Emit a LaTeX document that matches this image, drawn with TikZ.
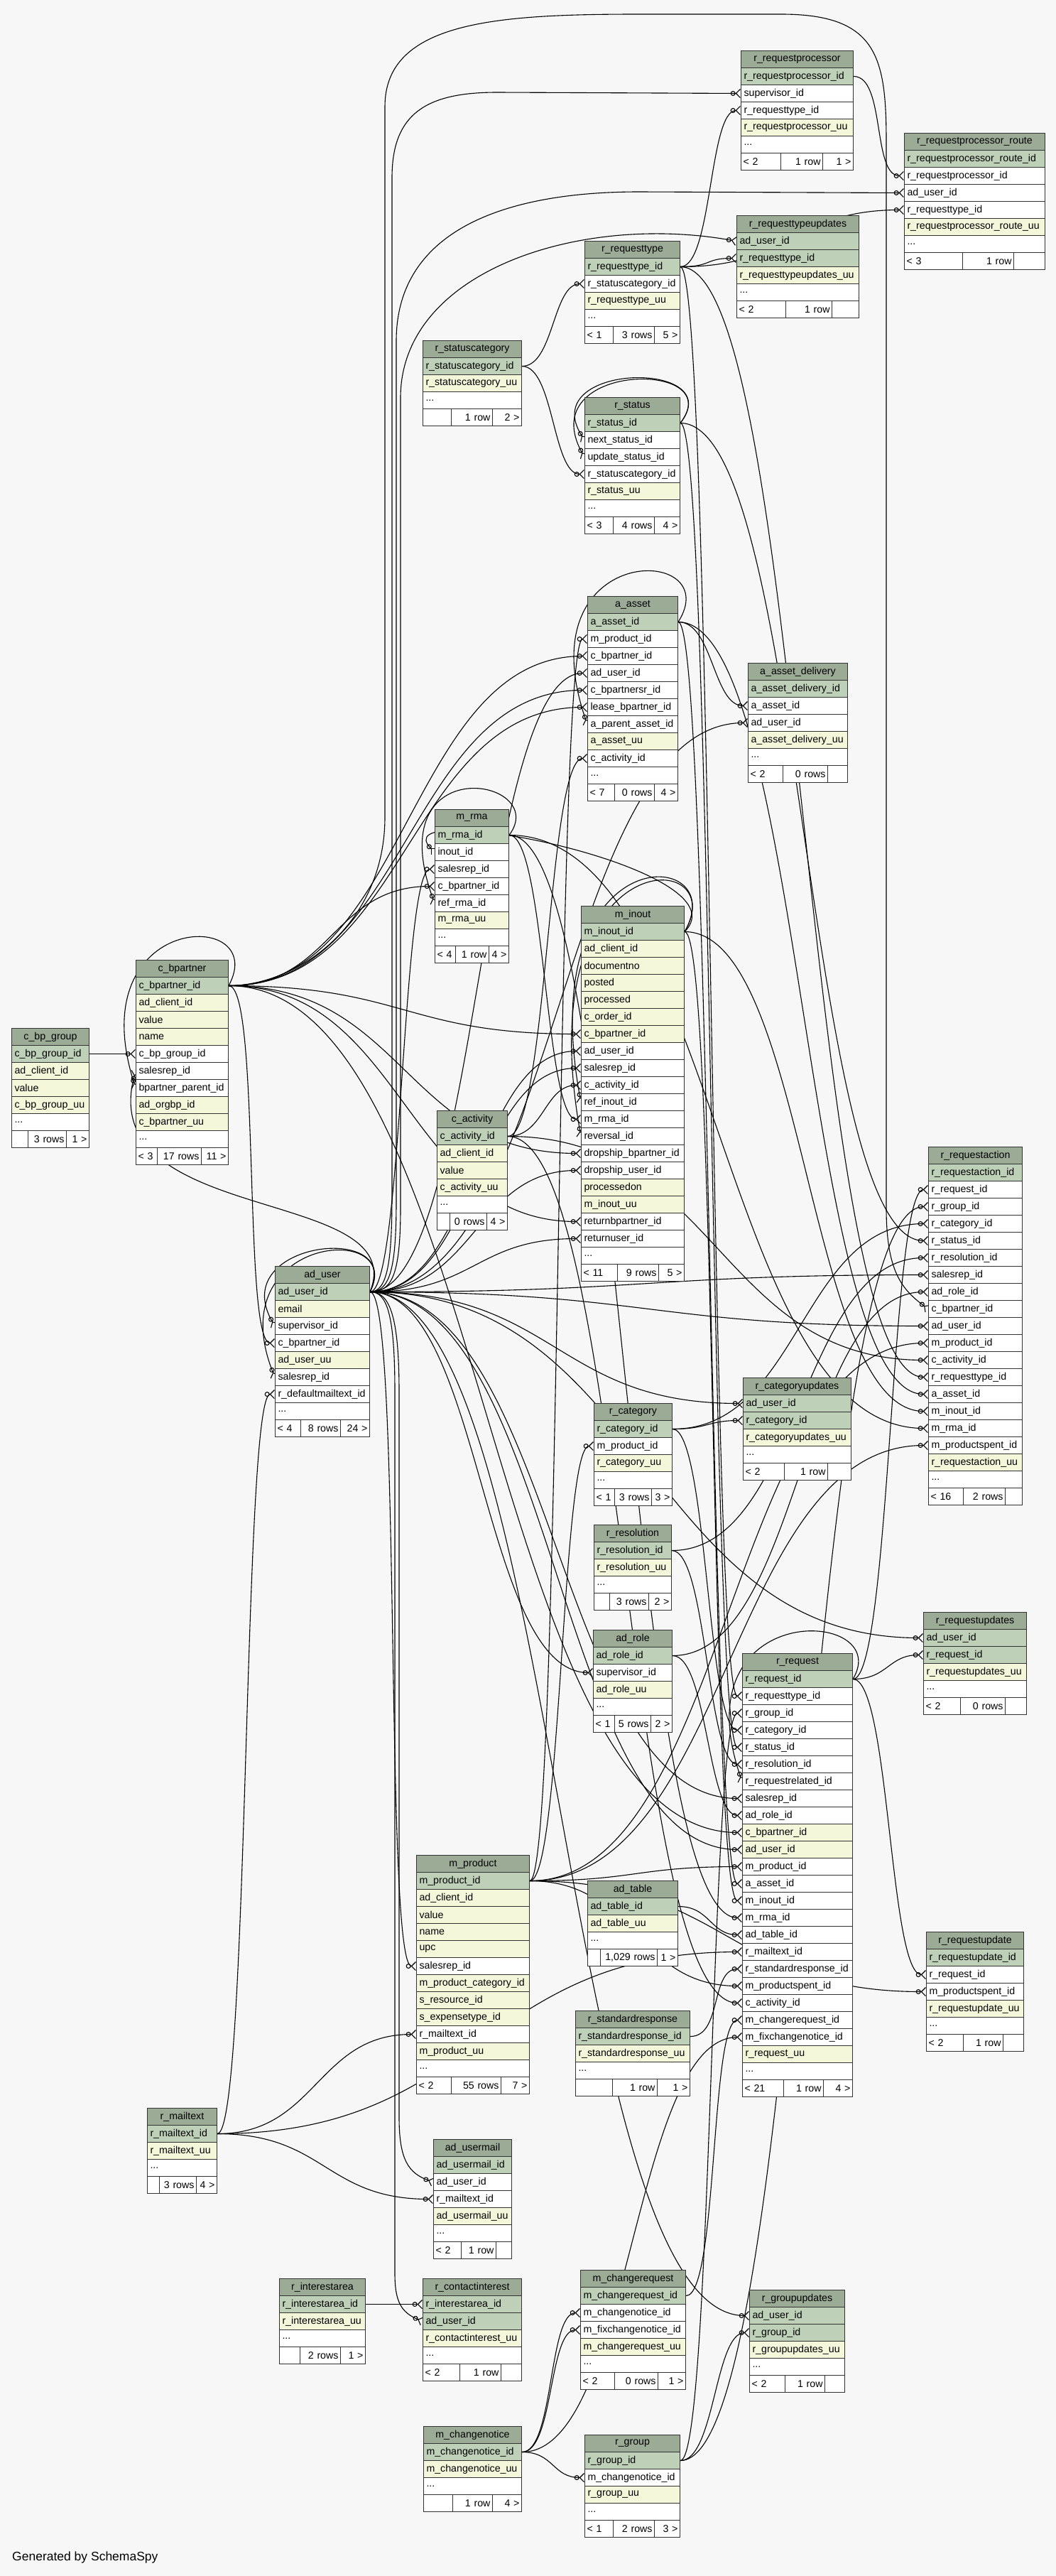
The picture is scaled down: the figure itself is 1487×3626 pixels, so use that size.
\documentclass[tikz,border=0pt]{standalone}
\usepackage{fontspec}
\setmainfont{Liberation Sans}
\usetikzlibrary{arrows.meta}

\definecolor{bgc}{HTML}{F7F7F7}
\definecolor{hdrc}{HTML}{9BAB96}
\definecolor{pkc}{HTML}{BED1B8}
\definecolor{ixc}{HTML}{F4F7DA}

\pgfdeclarelayer{bg}
\pgfdeclarelayer{links}
\pgfsetlayers{bg,links,main}

\newcommand\dbfont{\fontsize{14.2}{17}\selectfont}
\newdimen\fkdx

\tikzset{
  cell/.style={draw=black!80, line width=1pt, anchor=north west, minimum height=24pt,
    inner xsep=4pt, inner ysep=0pt, font=\dbfont},
  hdrow/.style={cell, fill=hdrc, align=center},
  keyrow/.style={cell, fill=pkc, align=left},
  plainrow/.style={cell, fill=ixc, align=left},
  fkrow/.style={cell, fill=white, align=left},
  footcell/.style={cell, fill=white, inner xsep=3pt},
  rowkind/.style={#1},
  fk/.style={line width=1.1pt,
    -{Circle[open,length=7pt,width=7pt] Straight Barb[reversed,length=6pt,width=12pt]}},
}

% table: name, x, y, width, columns (kind/column)
\newcommand\dbtable[5]{%
  \pgfmathsetmacro\tbtw{#4-8}%
  \node[hdrow, minimum width=#4pt, text width=\tbtw pt] (#1) at (#2,#3) {\detokenize{#1}};
  \foreach \st/\cn [count=\rw] in {#5} {
    \node[rowkind/.expand once=\st, minimum width=#4pt, text width=\tbtw pt] (#1-\cn)
      at (#2,#3+\rw*24) {\expandafter\detokenize\expandafter{\cn}};
    \global\let\tbn\rw
  }
  \node[fkrow, minimum width=#4pt, text width=\tbtw pt] (#1-more) at (#2,#3+\tbn*24+24) {...};
  \xdef\tbname{#1}\xdef\tbx{#2}\xdef\tbw{#4}%
  \pgfmathsetmacro\tbyf{#3+\tbn*24+48}%
}

% footer of the last table: divider x, divider x, left, middle, right
\newcommand\dbfoot[5]{%
  \pgfmathsetmacro\fwa{#1-\tbx}\pgfmathsetmacro\fwb{#2-#1}\pgfmathsetmacro\fwc{\tbx+\tbw-#2}%
  \pgfmathsetmacro\fta{\fwa-6}\pgfmathsetmacro\ftb{\fwb-6}\pgfmathsetmacro\ftc{\fwc-6}%
  \node[footcell, align=left, minimum width=\fwa pt, text width=\fta pt] (\tbname-fl) at (\tbx,\tbyf) {#3};
  \node[footcell, align=right, minimum width=\fwb pt, text width=\ftb pt] (\tbname-fm) at (#1,\tbyf) {#4};
  \node[footcell, align=right, minimum width=\fwc pt, text width=\ftc pt] (\tbname-fr) at (#2,\tbyf) {#5};
}

% key row east -> foreign key row west
\newcommand\fklink[2]{%
  \pgfextractx{\fkdx}{\pgfpointdiff{\pgfpointanchor{#1}{east}}{\pgfpointanchor{#2}{west}}}%
  \pgfmathsetmacro\fkd{max(45,abs(\fkdx)/2)}%
  \draw[fk] (#1.east) .. controls +(\fkd,0) and +(-\fkd,0) .. (#2.west);
}

\begin{document}
\begin{tikzpicture}[x=1pt,y=-1pt]
  \useasboundingbox (0,0) rectangle (1487,3626);
  \begin{pgfonlayer}{bg}
    \fill[bgc] (0,0) rectangle (1487,3626);
  \end{pgfonlayer}

  % tables
  \dbtable{r_requestprocessor}{1043}{71}{158}{keyrow/r_requestprocessor_id, fkrow/supervisor_id,
    fkrow/r_requesttype_id, plainrow/r_requestprocessor_uu}
  \dbfoot{1099}{1158}{< 2}{1 row}{1 >}
  \dbtable{r_requestprocessor_route}{1273}{187}{198}{keyrow/r_requestprocessor_route_id,
    fkrow/r_requestprocessor_id, fkrow/ad_user_id, fkrow/r_requesttype_id, plainrow/r_requestprocessor_route_uu}
  \dbfoot{1355}{1427}{< 3}{1 row}{}
  \dbtable{r_requesttypeupdates}{1037}{303}{172}{keyrow/ad_user_id, keyrow/r_requesttype_id,
    plainrow/r_requesttypeupdates_uu}
  \dbfoot{1106}{1171}{< 2}{1 row}{}
  \dbtable{r_requesttype}{823}{339}{134}{keyrow/r_requesttype_id, fkrow/r_statuscategory_id,
    plainrow/r_requesttype_uu}
  \dbfoot{863}{921}{< 1}{3 rows}{5 >}
  \dbtable{r_statuscategory}{595}{479}{139}{keyrow/r_statuscategory_id, plainrow/r_statuscategory_uu}
  \dbfoot{635}{693}{}{1 row}{2 >}
  \dbtable{r_status}{823}{559}{134}{keyrow/r_status_id, fkrow/next_status_id, fkrow/update_status_id,
    fkrow/r_statuscategory_id, plainrow/r_status_uu}
  \dbfoot{863}{921}{< 3}{4 rows}{4 >}
  \dbtable{a_asset}{827}{839}{127}{keyrow/a_asset_id, fkrow/m_product_id, fkrow/c_bpartner_id,
    fkrow/ad_user_id, fkrow/c_bpartnersr_id, fkrow/lease_bpartner_id, fkrow/a_parent_asset_id,
    plainrow/a_asset_uu, fkrow/c_activity_id}
  \dbfoot{865}{921}{< 7}{0 rows}{4 >}
  \dbtable{a_asset_delivery}{1053}{933}{140}{keyrow/a_asset_delivery_id, fkrow/a_asset_id,
    fkrow/ad_user_id, plainrow/a_asset_delivery_uu}
  \dbfoot{1102}{1165}{< 2}{0 rows}{}
  \dbtable{m_rma}{612}{1139}{104}{keyrow/m_rma_id, fkrow/inout_id, fkrow/salesrep_id,
    fkrow/c_bpartner_id, fkrow/ref_rma_id, plainrow/m_rma_uu}
  \dbfoot{641}{688}{< 4}{1 row}{4 >}
  \dbtable{m_inout}{818}{1275}{145}{keyrow/m_inout_id, plainrow/ad_client_id, plainrow/documentno,
    plainrow/posted, plainrow/processed, plainrow/c_order_id, plainrow/c_bpartner_id, fkrow/ad_user_id,
    fkrow/salesrep_id, fkrow/c_activity_id, fkrow/ref_inout_id, fkrow/m_rma_id, fkrow/reversal_id,
    fkrow/dropship_bpartner_id, fkrow/dropship_user_id, plainrow/processedon, plainrow/m_inout_uu,
    fkrow/returnbpartner_id, fkrow/returnuser_id}
  \dbfoot{869}{927}{< 11}{9 rows}{5 >}
  \dbtable{c_bp_group}{16}{1447}{109}{keyrow/c_bp_group_id, plainrow/ad_client_id, plainrow/value,
    plainrow/c_bp_group_uu}
  \dbfoot{39}{93}{}{3 rows}{1 >}
  \dbtable{c_bpartner}{191}{1351}{130}{keyrow/c_bpartner_id, plainrow/ad_client_id, plainrow/value,
    plainrow/name, fkrow/c_bp_group_id, fkrow/salesrep_id, fkrow/bpartner_parent_id,
    plainrow/ad_orgbp_id, plainrow/c_bpartner_uu}
  \dbfoot{221}{283}{< 3}{17 rows}{11 >}
  \dbtable{c_activity}{615}{1563}{99}{keyrow/c_activity_id, plainrow/ad_client_id, plainrow/value,
    plainrow/c_activity_uu}
  \dbfoot{633}{685}{}{0 rows}{4 >}
  \dbtable{r_requestaction}{1307}{1614}{132}{keyrow/r_requestaction_id, fkrow/r_request_id,
    fkrow/r_group_id, fkrow/r_category_id, fkrow/r_status_id, fkrow/r_resolution_id, fkrow/salesrep_id,
    fkrow/ad_role_id, fkrow/c_bpartner_id, fkrow/ad_user_id, fkrow/m_product_id, fkrow/c_activity_id,
    fkrow/r_requesttype_id, fkrow/a_asset_id, fkrow/m_inout_id, fkrow/m_rma_id, fkrow/m_productspent_id,
    plainrow/r_requestaction_uu}
  \dbfoot{1356}{1415}{< 16}{2 rows}{}
  \dbtable{ad_user}{387}{1782}{133}{keyrow/ad_user_id, plainrow/email, fkrow/supervisor_id,
    fkrow/c_bpartner_id, plainrow/ad_user_uu, fkrow/salesrep_id, fkrow/r_defaultmailtext_id}
  \dbfoot{423}{479}{< 4}{8 rows}{24 >}
  \dbtable{r_categoryupdates}{1046}{1939}{152}{keyrow/ad_user_id, keyrow/r_category_id,
    plainrow/r_categoryupdates_uu}
  \dbfoot{1104}{1165}{< 2}{1 row}{}
  \dbtable{r_category}{836}{1975}{110}{keyrow/r_category_id, fkrow/m_product_id, plainrow/r_category_uu}
  \dbfoot{865}{917}{< 1}{3 rows}{3 >}
  \dbtable{r_resolution}{836}{2146}{109}{keyrow/r_resolution_id, plainrow/r_resolution_uu}
  \dbfoot{858}{913}{}{3 rows}{2 >}
  \dbtable{ad_role}{835}{2294}{111}{keyrow/ad_role_id, fkrow/supervisor_id, plainrow/ad_role_uu}
  \dbfoot{865}{916}{< 1}{5 rows}{2 >}
  \dbtable{r_requestupdates}{1300}{2269}{145}{keyrow/ad_user_id, keyrow/r_request_id,
    plainrow/r_requestupdates_uu}
  \dbfoot{1352}{1415}{< 2}{0 rows}{}
  \dbtable{r_request}{1045}{2327}{155}{keyrow/r_request_id, fkrow/r_requesttype_id, fkrow/r_group_id,
    fkrow/r_category_id, fkrow/r_status_id, fkrow/r_resolution_id, fkrow/r_requestrelated_id,
    fkrow/salesrep_id, fkrow/ad_role_id, plainrow/c_bpartner_id, plainrow/ad_user_id, fkrow/m_product_id,
    fkrow/a_asset_id, fkrow/m_inout_id, fkrow/m_rma_id, fkrow/ad_table_id, fkrow/r_mailtext_id,
    fkrow/r_standardresponse_id, fkrow/m_productspent_id, fkrow/c_activity_id, fkrow/m_changerequest_id,
    fkrow/m_fixchangenotice_id, plainrow/r_request_uu}
  \dbfoot{1103}{1159}{< 21}{1 row}{4 >}
  \dbtable{m_product}{586}{2611}{159}{keyrow/m_product_id, plainrow/ad_client_id, plainrow/value,
    plainrow/name, plainrow/upc, fkrow/salesrep_id, plainrow/m_product_category_id,
    plainrow/s_resource_id, plainrow/s_expensetype_id, fkrow/r_mailtext_id, plainrow/m_product_uu}
  \dbfoot{635}{705}{< 2}{55 rows}{7 >}
  \dbtable{ad_table}{827}{2647}{127}{keyrow/ad_table_id, plainrow/ad_table_uu}
  \dbfoot{845}{925}{}{1,029 rows}{1 >}
  \dbtable{r_standardresponse}{810}{2830}{161}{keyrow/r_standardresponse_id, plainrow/r_standardresponse_uu}
  \dbfoot{862}{925}{}{1 row}{1 >}
  \dbtable{r_requestupdate}{1304}{2719}{137}{keyrow/r_requestupdate_id, fkrow/r_request_id,
    fkrow/m_productspent_id, plainrow/r_requestupdate_uu}
  \dbfoot{1356}{1412}{< 2}{1 row}{}
  \dbtable{r_mailtext}{207}{2967}{98}{keyrow/r_mailtext_id, plainrow/r_mailtext_uu}
  \dbfoot{224}{276}{}{3 rows}{4 >}
  \dbtable{ad_usermail}{610}{3011}{110}{keyrow/ad_usermail_id, fkrow/ad_user_id, fkrow/r_mailtext_id,
    plainrow/ad_usermail_uu}
  \dbfoot{649}{698}{< 2}{1 row}{}
  \dbtable{r_interestarea}{393}{3207}{121}{keyrow/r_interestarea_id, plainrow/r_interestarea_uu}
  \dbfoot{422}{479}{}{2 rows}{1 >}
  \dbtable{r_contactinterest}{595}{3207}{139}{keyrow/r_interestarea_id, keyrow/ad_user_id,
    plainrow/r_contactinterest_uu}
  \dbfoot{647}{705}{< 2}{1 row}{}
  \dbtable{m_changerequest}{817}{3195}{148}{keyrow/m_changerequest_id, fkrow/m_changenotice_id,
    fkrow/m_fixchangenotice_id, plainrow/m_changerequest_uu}
  \dbfoot{865}{926}{< 2}{0 rows}{1 >}
  \dbtable{r_groupupdates}{1055}{3223}{134}{keyrow/ad_user_id, keyrow/r_group_id, plainrow/r_groupupdates_uu}
  \dbfoot{1105}{1161}{< 2}{1 row}{}
  \dbtable{m_changenotice}{596}{3415}{138}{keyrow/m_changenotice_id, plainrow/m_changenotice_uu}
  \dbfoot{637}{693}{}{1 row}{4 >}
  \dbtable{r_group}{823}{3427}{134}{keyrow/r_group_id, fkrow/m_changenotice_id, plainrow/r_group_uu}
  \dbfoot{863}{921}{< 1}{2 rows}{3 >}

  \node[font=\fontsize{17.5}{20}\selectfont, anchor=west, inner sep=0pt] (credit) at (17,3600) {Generated by SchemaSpy};

  % relationships
  \begin{pgfonlayer}{links}
    \foreach \p/\q in {
      r_requesttype-r_requesttype_id/r_requestprocessor-r_requesttype_id,
      r_requestprocessor-r_requestprocessor_id/r_requestprocessor_route-r_requestprocessor_id,
      r_requesttype-r_requesttype_id/r_requestprocessor_route-r_requesttype_id,
      r_requesttype-r_requesttype_id/r_requesttypeupdates-r_requesttype_id,
      r_statuscategory-r_statuscategory_id/r_requesttype-r_statuscategory_id,
      r_statuscategory-r_statuscategory_id/r_status-r_statuscategory_id,
      m_product-m_product_id/a_asset-m_product_id,
      c_bpartner-c_bpartner_id/a_asset-c_bpartner_id,
      ad_user-ad_user_id/a_asset-ad_user_id,
      c_bpartner-c_bpartner_id/a_asset-c_bpartnersr_id,
      c_bpartner-c_bpartner_id/a_asset-lease_bpartner_id,
      c_activity-c_activity_id/a_asset-c_activity_id,
      a_asset-a_asset_id/a_asset_delivery-a_asset_id,
      ad_user-ad_user_id/a_asset_delivery-ad_user_id,
      ad_user-ad_user_id/m_rma-salesrep_id,
      c_bpartner-c_bpartner_id/m_rma-c_bpartner_id,
      c_bp_group-c_bp_group_id/c_bpartner-c_bp_group_id,
      c_bpartner-c_bpartner_id/m_inout-c_bpartner_id,
      ad_user-ad_user_id/m_inout-ad_user_id,
      ad_user-ad_user_id/m_inout-salesrep_id,
      c_activity-c_activity_id/m_inout-c_activity_id,
      m_rma-m_rma_id/m_inout-m_rma_id,
      c_bpartner-c_bpartner_id/m_inout-dropship_bpartner_id,
      ad_user-ad_user_id/m_inout-dropship_user_id,
      c_bpartner-c_bpartner_id/m_inout-returnbpartner_id,
      ad_user-ad_user_id/m_inout-returnuser_id,
      r_request-r_request_id/r_requestaction-r_request_id,
      r_group-r_group_id/r_requestaction-r_group_id,
      r_category-r_category_id/r_requestaction-r_category_id,
      r_status-r_status_id/r_requestaction-r_status_id,
      r_resolution-r_resolution_id/r_requestaction-r_resolution_id,
      ad_user-ad_user_id/r_requestaction-salesrep_id,
      ad_role-ad_role_id/r_requestaction-ad_role_id,
      ad_user-ad_user_id/r_requestaction-ad_user_id,
      m_product-m_product_id/r_requestaction-m_product_id,
      c_activity-c_activity_id/r_requestaction-c_activity_id,
      r_requesttype-r_requesttype_id/r_requestaction-r_requesttype_id,
      a_asset-a_asset_id/r_requestaction-a_asset_id,
      m_inout-m_inout_id/r_requestaction-m_inout_id,
      m_rma-m_rma_id/r_requestaction-m_rma_id,
      m_product-m_product_id/r_requestaction-m_productspent_id,
      c_bpartner-c_bpartner_id/ad_user-c_bpartner_id,
      r_mailtext-r_mailtext_id/ad_user-r_defaultmailtext_id,
      ad_user-ad_user_id/r_categoryupdates-ad_user_id,
      r_category-r_category_id/r_categoryupdates-r_category_id,
      m_product-m_product_id/r_category-m_product_id,
      ad_user-ad_user_id/ad_role-supervisor_id,
      ad_user-ad_user_id/r_requestupdates-ad_user_id,
      r_request-r_request_id/r_requestupdates-r_request_id,
      r_requesttype-r_requesttype_id/r_request-r_requesttype_id,
      r_group-r_group_id/r_request-r_group_id,
      r_category-r_category_id/r_request-r_category_id,
      r_status-r_status_id/r_request-r_status_id,
      r_resolution-r_resolution_id/r_request-r_resolution_id,
      ad_user-ad_user_id/r_request-salesrep_id,
      ad_role-ad_role_id/r_request-ad_role_id,
      c_bpartner-c_bpartner_id/r_request-c_bpartner_id,
      ad_user-ad_user_id/r_request-ad_user_id,
      m_product-m_product_id/r_request-m_product_id,
      a_asset-a_asset_id/r_request-a_asset_id,
      m_inout-m_inout_id/r_request-m_inout_id,
      m_rma-m_rma_id/r_request-m_rma_id,
      ad_table-ad_table_id/r_request-ad_table_id,
      r_mailtext-r_mailtext_id/r_request-r_mailtext_id,
      r_standardresponse-r_standardresponse_id/r_request-r_standardresponse_id,
      m_product-m_product_id/r_request-m_productspent_id,
      c_activity-c_activity_id/r_request-c_activity_id,
      m_changerequest-m_changerequest_id/r_request-m_changerequest_id,
      m_changenotice-m_changenotice_id/r_request-m_fixchangenotice_id,
      ad_user-ad_user_id/m_product-salesrep_id,
      r_mailtext-r_mailtext_id/m_product-r_mailtext_id,
      r_request-r_request_id/r_requestupdate-r_request_id,
      m_product-m_product_id/r_requestupdate-m_productspent_id,
      r_mailtext-r_mailtext_id/ad_usermail-r_mailtext_id,
      r_interestarea-r_interestarea_id/r_contactinterest-r_interestarea_id,
      m_changenotice-m_changenotice_id/m_changerequest-m_changenotice_id,
      m_changenotice-m_changenotice_id/m_changerequest-m_fixchangenotice_id,
      ad_user-ad_user_id/r_groupupdates-ad_user_id,
      r_group-r_group_id/r_groupupdates-r_group_id,
      m_changenotice-m_changenotice_id/r_group-m_changenotice_id}
    {\fklink{\p}{\q}}

    % long links up and down the left corridor
    \draw[fk] (ad_user-ad_user_id.east) .. controls (545,1818) and (552,1780) .. (552,1680)
      -- (552,250) .. controls (552,160) and (600,130) .. (700,130) -- (r_requestprocessor-supervisor_id.west);
    \draw[fk] (ad_user-ad_user_id.east) .. controls (548,1818) and (558,1790) .. (558,1690)
      -- (558,480) .. controls (558,330) and (700,270) .. (900,270) -- (r_requestprocessor_route-ad_user_id.west);
    \draw[fk] (ad_user-ad_user_id.east) .. controls (550,1818) and (564,1800) .. (564,1700)
      -- (564,560) .. controls (564,380) and (820,300) .. (r_requesttypeupdates-ad_user_id.west);
    \draw[fk] (ad_user-ad_user_id.east) .. controls (548,1818) and (562,1850) .. (562,1960)
      -- (562,2980) .. controls (562,3040) and (575,3059) .. (ad_usermail-ad_user_id.west);
    \draw[fk] (ad_user-ad_user_id.east) .. controls (545,1818) and (556,1850) .. (556,1960)
      -- (556,3200) .. controls (556,3240) and (565,3255) .. (r_contactinterest-ad_user_id.west);
    \draw[fk] (c_bpartner-c_bpartner_id.east) .. controls (420,1387) and (542,1300) .. (542,1150)
      -- (542,150) .. controls (542,30) and (700,20) .. (900,20) -- (1100,20)
      .. controls (1235,20) and (1248,80) .. (1248,200) -- (1248,1700)
      .. controls (1248,1790) and (1270,1815) .. (r_requestaction-c_bpartner_id.west);

    % loops and back links
    \draw[fk] (r_status-r_status_id.east) .. controls +(70,-90) and +(-70,-110) .. (r_status-next_status_id.west);
    \draw[fk] (r_status-r_status_id.east) .. controls +(70,-90) and +(-75,-135) .. (r_status-update_status_id.west);
    \draw[fk] (a_asset-a_asset_id.east) .. controls +(70,-110) and +(-90,-260) .. (a_asset-a_parent_asset_id.west);
    \draw[fk] (m_rma-m_rma_id.east) .. controls +(60,-80) and +(-80,-220) .. (m_rma-ref_rma_id.west);
    \draw[fk] (m_inout-m_inout_id.east) .. controls +(90,-90) and +(-80,-80) .. (m_rma-inout_id.west);
    \draw[fk] (c_bpartner-c_bpartner_id.east) .. controls +(60,-110) and +(-80,-250) .. (c_bpartner-bpartner_parent_id.west);
    \draw[fk] (ad_user-ad_user_id.east) .. controls +(60,-150) and +(-60,220) .. (c_bpartner-salesrep_id.west);
    \draw[fk] (m_inout-m_inout_id.east) .. controls +(70,-120) and +(-70,-380) .. (m_inout-ref_inout_id.west);
    \draw[fk] (m_inout-m_inout_id.east) .. controls +(70,-120) and +(-75,-420) .. (m_inout-reversal_id.west);
    \draw[fk] (ad_user-ad_user_id.east) .. controls +(50,-100) and +(-70,-120) .. (ad_user-supervisor_id.west);
    \draw[fk] (ad_user-ad_user_id.east) .. controls +(50,-100) and +(-80,-200) .. (ad_user-salesrep_id.west);
    \draw[fk] (r_request-r_request_id.east) .. controls +(60,-100) and +(-90,-260) .. (r_request-r_requestrelated_id.west);
  \end{pgfonlayer}
\end{tikzpicture}
\end{document}
